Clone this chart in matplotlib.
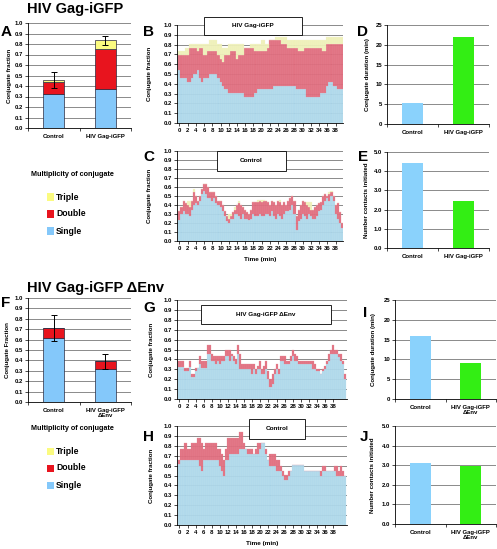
import numpy as np
import matplotlib
matplotlib.use("Agg")
import matplotlib.pyplot as plt
from matplotlib.patches import Rectangle

plt.rcParams["font.family"] = ["Liberation Sans", "DejaVu Sans"]
plt.rcParams["font.weight"] = "bold"

# ── Data ──────────────────────────────────────────────────────────────────────
cats_a = ["Control", "HIV Gag-iGFP"]
a_single = [0.32, 0.37]
a_double = [0.12, 0.38]
a_triple = [0.02, 0.085]
a_err = [0.077, 0.04]

cats_f = ["Control", "HIV Gag-iGFP\n\u0394Env"]
f_single = [0.62, 0.32]
f_double = [0.09, 0.07]
f_triple = [0.0, 0.0]
f_err = [0.125, 0.068]

d_vals = [5.4, 22.0]     # conjugate duration (min)
e_vals = [4.45, 2.45]    # number contacts initiated
i_vals = [15.9, 9.2]
j_vals = [3.1, 2.95]

# time courses, one value per 0.5 min; "upper" = single + double, "total" = all
t_bc = np.arange(80) * 0.5
t_gh = np.arange(83) * 0.5

b_single = [0.54, 0.46, 0.46, 0.46, 0.42, 0.42, 0.46, 0.50, 0.50, 0.54,
            0.46, 0.42, 0.46, 0.46, 0.46, 0.50, 0.50, 0.50, 0.50, 0.46,
            0.42, 0.38, 0.35, 0.35, 0.31, 0.31, 0.31, 0.31, 0.31, 0.31,
            0.31, 0.31, 0.27, 0.27, 0.27, 0.27, 0.27, 0.31, 0.35, 0.35,
            0.35, 0.35, 0.35, 0.35, 0.35, 0.35, 0.38, 0.38, 0.38, 0.38,
            0.38, 0.38, 0.38, 0.38, 0.38, 0.38, 0.38, 0.35, 0.35, 0.35,
            0.35, 0.35, 0.27, 0.27, 0.27, 0.27, 0.27, 0.27, 0.27, 0.31,
            0.31, 0.31, 0.38, 0.42, 0.42, 0.38, 0.38, 0.35, 0.35, 0.35]
b_upper = [0.69, 0.69, 0.69, 0.69, 0.69, 0.77, 0.77, 0.77, 0.77, 0.73,
           0.77, 0.77, 0.69, 0.69, 0.73, 0.73, 0.73, 0.73, 0.73, 0.69,
           0.65, 0.62, 0.69, 0.69, 0.69, 0.73, 0.73, 0.73, 0.65, 0.69,
           0.69, 0.69, 0.77, 0.77, 0.77, 0.77, 0.77, 0.73, 0.73, 0.73,
           0.73, 0.73, 0.73, 0.77, 0.85, 0.85, 0.85, 0.85, 0.85, 0.85,
           0.81, 0.81, 0.81, 0.77, 0.77, 0.77, 0.77, 0.77, 0.73, 0.73,
           0.73, 0.77, 0.77, 0.77, 0.77, 0.77, 0.77, 0.77, 0.77, 0.77,
           0.73, 0.73, 0.81, 0.81, 0.81, 0.81, 0.81, 0.81, 0.81, 0.81]
b_total = [0.73, 0.73, 0.73, 0.77, 0.77, 0.81, 0.81, 0.81, 0.81, 0.81,
           0.81, 0.81, 0.81, 0.81, 0.81, 0.85, 0.85, 0.85, 0.85, 0.81,
           0.81, 0.77, 0.77, 0.77, 0.81, 0.81, 0.81, 0.81, 0.81, 0.81,
           0.81, 0.81, 0.77, 0.77, 0.77, 0.81, 0.81, 0.81, 0.81, 0.81,
           0.85, 0.85, 0.81, 0.81, 0.85, 0.85, 0.85, 0.88, 0.88, 0.88,
           0.88, 0.88, 0.88, 0.85, 0.85, 0.85, 0.85, 0.85, 0.85, 0.85,
           0.85, 0.85, 0.85, 0.85, 0.85, 0.85, 0.85, 0.85, 0.85, 0.85,
           0.85, 0.85, 0.88, 0.88, 0.88, 0.88, 0.88, 0.88, 0.88, 0.88]

c_single = [0.23, 0.30, 0.33, 0.30, 0.30, 0.28, 0.35, 0.40, 0.42, 0.40,
            0.45, 0.52, 0.56, 0.52, 0.48, 0.48, 0.45, 0.48, 0.42, 0.40,
            0.38, 0.33, 0.28, 0.22, 0.20, 0.25, 0.25, 0.30, 0.30, 0.28,
            0.25, 0.30, 0.25, 0.25, 0.23, 0.25, 0.30, 0.28, 0.28, 0.30,
            0.28, 0.28, 0.30, 0.30, 0.28, 0.33, 0.28, 0.25, 0.30, 0.28,
            0.25, 0.30, 0.33, 0.33, 0.35, 0.40, 0.30, 0.12, 0.22, 0.25,
            0.30, 0.28, 0.25, 0.30, 0.28, 0.25, 0.25, 0.28, 0.33, 0.35,
            0.40, 0.45, 0.48, 0.45, 0.50, 0.45, 0.30, 0.25, 0.20, 0.15]
c_upper = [0.33, 0.38, 0.45, 0.42, 0.40, 0.38, 0.45, 0.55, 0.50, 0.45,
           0.50, 0.58, 0.63, 0.63, 0.60, 0.55, 0.55, 0.55, 0.50, 0.45,
           0.45, 0.40, 0.33, 0.28, 0.25, 0.28, 0.32, 0.35, 0.40, 0.42,
           0.40, 0.38, 0.35, 0.32, 0.30, 0.35, 0.43, 0.43, 0.43, 0.45,
           0.43, 0.45, 0.45, 0.43, 0.40, 0.45, 0.43, 0.40, 0.45, 0.43,
           0.40, 0.43, 0.40, 0.45, 0.48, 0.50, 0.45, 0.28, 0.35, 0.40,
           0.45, 0.43, 0.40, 0.38, 0.35, 0.35, 0.38, 0.40, 0.42, 0.43,
           0.50, 0.52, 0.50, 0.52, 0.55, 0.50, 0.40, 0.42, 0.32, 0.20]
c_total = [0.33, 0.38, 0.45, 0.42, 0.45, 0.45, 0.45, 0.58, 0.50, 0.45,
           0.50, 0.58, 0.63, 0.63, 0.60, 0.55, 0.55, 0.55, 0.50, 0.45,
           0.45, 0.40, 0.33, 0.28, 0.30, 0.30, 0.32, 0.38, 0.40, 0.45,
           0.40, 0.38, 0.35, 0.32, 0.30, 0.35, 0.43, 0.43, 0.46, 0.46,
           0.46, 0.46, 0.45, 0.43, 0.40, 0.45, 0.43, 0.40, 0.45, 0.46,
           0.40, 0.43, 0.40, 0.45, 0.48, 0.50, 0.45, 0.28, 0.35, 0.40,
           0.45, 0.43, 0.43, 0.43, 0.43, 0.35, 0.38, 0.40, 0.42, 0.43,
           0.50, 0.52, 0.50, 0.55, 0.56, 0.50, 0.40, 0.42, 0.32, 0.20]

g_single = [0.32, 0.32, 0.32, 0.28, 0.28, 0.32, 0.22, 0.22, 0.28, 0.31,
            0.35, 0.31, 0.31, 0.31, 0.45, 0.45, 0.38, 0.38, 0.35, 0.38,
            0.35, 0.38, 0.38, 0.43, 0.43, 0.38, 0.43, 0.38, 0.35, 0.45,
            0.30, 0.30, 0.30, 0.30, 0.30, 0.30, 0.25, 0.30, 0.25, 0.30,
            0.30, 0.25, 0.25, 0.30, 0.20, 0.12, 0.15, 0.25, 0.30, 0.25,
            0.38, 0.38, 0.35, 0.35, 0.35, 0.38, 0.43, 0.38, 0.38, 0.35,
            0.35, 0.35, 0.35, 0.35, 0.35, 0.35, 0.30, 0.30, 0.28, 0.28,
            0.25, 0.28, 0.30, 0.35, 0.38, 0.45, 0.45, 0.45, 0.45, 0.42,
            0.38, 0.35, 0.20]
g_upper = [0.38, 0.38, 0.38, 0.31, 0.31, 0.38, 0.25, 0.25, 0.31, 0.31,
           0.43, 0.38, 0.38, 0.38, 0.55, 0.55, 0.45, 0.43, 0.43, 0.43,
           0.43, 0.43, 0.43, 0.50, 0.50, 0.50, 0.45, 0.43, 0.40, 0.55,
           0.45, 0.35, 0.35, 0.35, 0.35, 0.35, 0.35, 0.35, 0.30, 0.33,
           0.38, 0.30, 0.33, 0.38, 0.28, 0.20, 0.25, 0.30, 0.35, 0.30,
           0.43, 0.43, 0.43, 0.38, 0.38, 0.43, 0.50, 0.45, 0.43, 0.38,
           0.38, 0.38, 0.38, 0.38, 0.38, 0.38, 0.38, 0.35, 0.30, 0.30,
           0.25, 0.30, 0.33, 0.38, 0.45, 0.50, 0.55, 0.50, 0.50, 0.45,
           0.45, 0.38, 0.25]

h_single = [0.62, 0.66, 0.66, 0.66, 0.66, 0.66, 0.66, 0.66, 0.66, 0.66,
            0.60, 0.55, 0.66, 0.66, 0.66, 0.66, 0.66, 0.66, 0.66, 0.66,
            0.60, 0.55, 0.50, 0.66, 0.66, 0.72, 0.72, 0.72, 0.72, 0.72,
            0.77, 0.77, 0.77, 0.77, 0.72, 0.72, 0.72, 0.72, 0.72, 0.72,
            0.77, 0.83, 0.83, 0.72, 0.66, 0.60, 0.60, 0.60, 0.55, 0.55,
            0.55, 0.50, 0.45, 0.45, 0.50, 0.55, 0.61, 0.61, 0.61, 0.61,
            0.61, 0.61, 0.55, 0.55, 0.55, 0.55, 0.55, 0.55, 0.55, 0.55,
            0.50, 0.55, 0.55, 0.55, 0.55, 0.55, 0.55, 0.55, 0.50, 0.50,
            0.50, 0.50, 0.50]
h_upper = [0.66, 0.77, 0.77, 0.83, 0.77, 0.77, 0.83, 0.83, 0.83, 0.88,
           0.88, 0.83, 0.77, 0.83, 0.83, 0.83, 0.83, 0.83, 0.83, 0.77,
           0.77, 0.72, 0.66, 0.77, 0.88, 0.88, 0.88, 0.88, 0.88, 0.88,
           0.94, 0.94, 0.83, 0.77, 0.77, 0.77, 0.77, 0.72, 0.77, 0.83,
           0.83, 0.83, 0.83, 0.77, 0.66, 0.72, 0.72, 0.72, 0.66, 0.66,
           0.60, 0.55, 0.50, 0.50, 0.55, 0.55, 0.61, 0.61, 0.61, 0.61,
           0.61, 0.61, 0.55, 0.55, 0.55, 0.55, 0.55, 0.55, 0.55, 0.55,
           0.55, 0.60, 0.60, 0.55, 0.55, 0.55, 0.55, 0.60, 0.60, 0.55,
           0.60, 0.55, 0.50]

time_ticks = list(range(0, 39, 2))

# ── Style ─────────────────────────────────────────────────────────────────────
W, H = 497, 549
GRID = "#8a8a8a"
SUM_BLUE, SUM_RED, SUM_YEL = "#84c8fa", "#e8141e", "#fbfb80"
TS_BLUE, TS_RED, TS_YEL = "#aad6ea", "#e0687a", "#eef0b4"
CTRL_BLUE, HIV_GREEN = "#8ad2fc", "#33ee14"
TICK = 4.3

fig = plt.figure(figsize=(W / 100, H / 100), dpi=100)


def ax_px(l, t, r, b):
    return fig.add_axes([l / W, 1 - b / H, (r - l) / W, (b - t) / H])


def ftext(x, y, s, **kw):
    kw.setdefault("fontweight", "bold")
    fig.text(x / W, 1 - y / H, s, **kw)


def style(ax, ymax, ystep, fmt):
    ax.set_axisbelow(True)
    ax.yaxis.grid(True, color=GRID, lw=0.7)
    ax.set_ylim(0, ymax)
    ax.set_yticks(np.arange(0, ymax + ystep / 2, ystep))
    ax.set_yticklabels([fmt.format(v) for v in np.arange(0, ymax + ystep / 2, ystep)])
    ax.spines["top"].set_visible(False)
    ax.spines["right"].set_visible(False)
    for s in ("left", "bottom"):
        ax.spines[s].set_linewidth(0.6)
    ax.tick_params(labelsize=TICK, length=2, width=0.5, pad=1.5)


def summary_panel(rect, cats, single, double, triple, err, ylab_x, ylab):
    ax = ax_px(*rect)
    style(ax, 1.0, 0.1, "{:.1f}")
    x = np.arange(len(cats))
    kw = dict(width=0.41, edgecolor="#2a2a40", linewidth=0.5)
    ax.bar(x, single, color=SUM_BLUE, **kw)
    ax.bar(x, double, bottom=single, color=SUM_RED, **kw)
    low = np.add(single, double)
    ax.bar(x, triple, bottom=low, color=SUM_YEL, **kw)
    ax.errorbar(x, low + np.array(triple), yerr=err, fmt="none",
                ecolor="black", elinewidth=0.7, capsize=2, capthick=0.7)
    ax.set_xlim(-0.5, 1.5)
    ax.set_xticks(x)
    ax.set_xticklabels(cats, fontsize=TICK, linespacing=1.1)
    ax.tick_params(axis="x", length=0, pad=4)
    ax.set_xticks([-0.5, 0.5, 1.5], minor=True)
    ax.tick_params(axis="x", which="minor", length=2, width=0.5)
    ftext(ylab_x, (rect[1] + rect[3]) / 2, ylab, rotation=90, fontsize=4.4,
          ha="center", va="center")
    return ax


def legend_block(x, y):
    ftext(x, y, "Multiplicity of conjugate", fontsize=5.2, ha="left", va="center")
    for k, (lab, col) in enumerate([("Triple", SUM_YEL), ("Double", SUM_RED),
                                    ("Single", SUM_BLUE)]):
        yy = y + 23 + 17 * k
        fig.patches.append(Rectangle(((x + 16) / W, 1 - (yy + 3.5) / H), 6.5 / W, 7 / H,
                                     transform=fig.transFigure, facecolor=col,
                                     edgecolor="none"))
        ftext(x + 25, yy, lab, fontsize=6.2, ha="left", va="center")


def series_panel(rect, t, single, upper, total, xmax, box, ylab_x, xlab_y=None):
    ax = ax_px(*rect)
    style(ax, 1.0, 0.1, "{:.1f}")
    single = np.array(single)
    upper = np.array(upper)
    kw = dict(width=0.5, linewidth=0.2, alpha=0.93)
    ax.bar(t, single, color=TS_BLUE, edgecolor="#c4e3f0", **kw)
    ax.bar(t, upper - single, bottom=single, color=TS_RED, edgecolor="#e68a97", **kw)
    if total is not None:
        ax.bar(t, np.array(total) - upper, bottom=upper, color=TS_YEL,
               edgecolor="#f4f5d0", **kw)
    ax.set_xlim(-0.6, xmax)
    ax.set_xticks(time_ticks)
    ax.set_xticklabels([str(v) for v in time_ticks])
    text, bx0, bx1, by0, by1 = box
    ax.add_patch(Rectangle((bx0, by0), bx1 - bx0, by1 - by0, transform=ax.transAxes,
                           facecolor="white", edgecolor="black", lw=0.6,
                           clip_on=False, zorder=5))
    ax.text((bx0 + bx1) / 2, (by0 + by1) / 2, text, transform=ax.transAxes,
            ha="center", va="center", fontsize=4.6, fontweight="bold", zorder=6)
    ftext(ylab_x, (rect[1] + rect[3]) / 2, "Conjugate fraction", rotation=90,
          fontsize=4.4, ha="center", va="center")
    if xlab_y is not None:
        ftext((rect[0] + rect[2]) / 2, xlab_y, "Time (min)", fontsize=4.6,
              ha="center", va="center")
    return ax


def simple_panel(rect, vals, cats, ymax, ystep, fmt, ylab_x, ylab):
    ax = ax_px(*rect)
    style(ax, ymax, ystep, fmt)
    x = np.arange(len(vals))
    ax.bar(x, vals, width=0.41, color=[CTRL_BLUE, HIV_GREEN], edgecolor="none")
    ax.set_xlim(-0.5, 1.5)
    ax.set_xticks(x)
    ax.set_xticklabels(cats, fontsize=TICK, linespacing=1.1)
    ax.tick_params(axis="x", length=0, pad=4)
    ax.set_xticks([-0.5, 0.5, 1.5], minor=True)
    ax.tick_params(axis="x", which="minor", length=2, width=0.5)
    ftext(ylab_x, (rect[1] + rect[3]) / 2, ylab, rotation=90, fontsize=4.4,
          ha="center", va="center")
    return ax


# ── Top half: HIV Gag-iGFP ────────────────────────────────────────────────────
ftext(27, 9, "HIV Gag-iGFP", fontsize=10.5, ha="left", va="center")
summary_panel((28, 23, 131, 128), cats_a, a_single, a_double, a_triple, a_err,
              10, "Conjugate fraction")
legend_block(31, 174)

series_panel((177, 25, 343, 123), t_bc, b_single, b_upper, b_total, 39.8,
             ("HIV Gag-iGFP", 0.163, 0.753, 0.90, 1.08), 150)
series_panel((177, 151, 343, 241), t_bc, c_single, c_upper, c_total, 39.8,
             ("Control", 0.24, 0.656, 0.78, 1.0), 150, xlab_y=259)

simple_panel((387, 25, 489, 124), d_vals, cats_a, 25, 5, "{:.0f}", 367,
             "Conjugate duration (min)")
simple_panel((387, 152, 489, 248), e_vals, cats_a, 5.0, 1.0, "{:.1f}", 367,
             "Number contacts initiated")

# ── Bottom half: HIV Gag-iGFP ΔEnv ────────────────────────────────────────────
ftext(27, 288, "HIV Gag-iGFP \u0394Env", fontsize=10.5, ha="left", va="center")
summary_panel((28, 298, 131, 402), cats_f, f_single, f_double, f_triple, f_err,
              8, "Conjugate Fraction")
legend_block(31, 428)

series_panel((177, 300, 347, 399), t_gh, g_single, g_upper, None, 41.4,
             ("HIV Gag-iGFP \u0394Env", 0.141, 0.906, 0.76, 0.95), 152)
series_panel((177, 426, 347, 525), t_gh, h_single, h_upper, None, 41.4,
             ("Control", 0.424, 0.753, 0.87, 1.07), 152, xlab_y=543)

simple_panel((395, 300, 496, 399), i_vals, cats_f, 25, 5, "{:.0f}", 373,
             "Conjugate duration (min)")
simple_panel((395, 426, 496, 524), j_vals, cats_f, 5.0, 1.0, "{:.1f}", 373,
             "Number contacts initiated")

# ── Panel letters ─────────────────────────────────────────────────────────────
for lab, x, y in [("A", 1, 32), ("B", 143, 32), ("C", 143, 157), ("D", 357, 32),
                  ("E", 358, 157), ("F", 1, 303), ("G", 143, 308), ("H", 143, 437),
                  ("I", 363, 313), ("J", 360, 437)]:
    ftext(x, y, lab, fontsize=11, ha="left", va="center")

fig.savefig("out.png", dpi=100)
